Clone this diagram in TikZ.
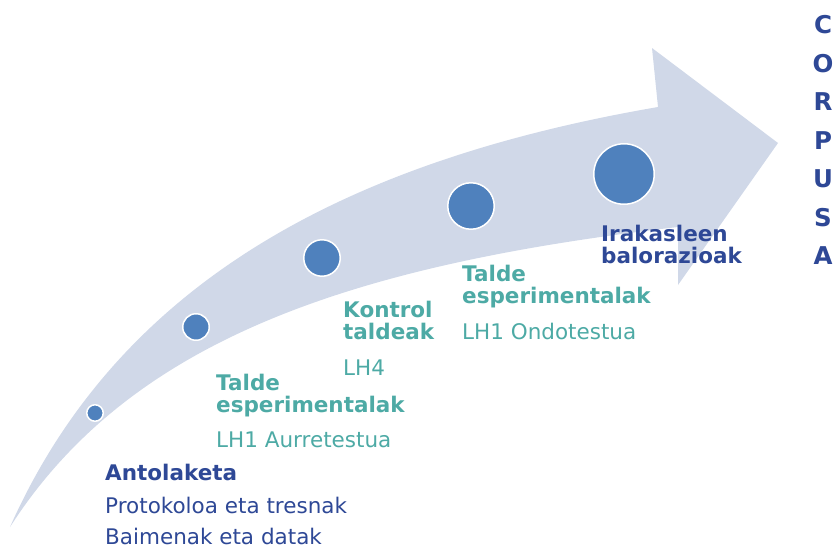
\documentclass[tikz,border=0pt]{standalone}
\usepackage{fontspec}
\setmainfont{DejaVu Sans}
\usetikzlibrary{positioning}

\definecolor{arrowfill}{RGB}{208,216,232}
\definecolor{dotblue}{RGB}{79,129,189}
\definecolor{tealtext}{RGB}{77,170,165}
\definecolor{navytext}{RGB}{46,72,150}

\begin{document}
\begin{tikzpicture}[x=1pt,y=-1pt,
	dot/.style={circle,fill=dotblue,draw=white,line width=1.5pt,inner sep=0pt},
	txt/.style={anchor=base west,inner sep=0pt,font=\fontsize{21.5}{24}\selectfont},
	ttl/.style={txt,font=\fontsize{21.5}{24}\selectfont\bfseries},
	corpus/.style={inner sep=0pt,text=navytext,font=\fontsize{24.5}{26}\selectfont\bfseries}]
	\useasboundingbox (0,0) rectangle (837,546);
	
	% curved arrow
	\fill[arrowfill] (10,527) .. controls (120,280) and (350,160) .. (658,107)
		-- (652,48) -- (778,143) -- (678,285) -- (678,227)
		.. controls (350,265) and (130,340) .. (10,527) -- cycle;
	
	\foreach \x/\y/\s [count=\i] in {95/413/16.5, 196/327/26.5, 322/258/36.5, 471/206/46.5, 624/174/60.5}
		\node[dot,minimum size=\s pt] (d\i) at (\x,\y) {};
	
	% steps
	\node[ttl,text=navytext] (antol) at (105,480) {Antolaketa};
	\node[txt,text=navytext,below=33pt of antol.base west,anchor=base west] (proto) {Protokoloa eta tresnak};
	\node[txt,text=navytext,below=31pt of proto.base west,anchor=base west] (baimen) {Baimenak eta datak};
	
	\node[ttl,text=tealtext] (talde1) at (216,390) {Talde};
	\node[ttl,text=tealtext,below=22pt of talde1.base west,anchor=base west] (esper1) {esperimentalak};
	\node[txt,text=tealtext,below=35pt of esper1.base west,anchor=base west] (aurre) {LH1 Aurretestua};
	
	\node[ttl,text=tealtext] (kontrol) at (343,317) {Kontrol};
	\node[ttl,text=tealtext,below=22pt of kontrol.base west,anchor=base west] (taldeak) {taldeak};
	\node[txt,text=tealtext,below=36pt of taldeak.base west,anchor=base west] (lh4) {LH4};
	
	\node[ttl,text=tealtext] (talde2) at (462,281) {Talde};
	\node[ttl,text=tealtext,below=22pt of talde2.base west,anchor=base west] (esper2) {esperimentalak};
	\node[txt,text=tealtext,below=36pt of esper2.base west,anchor=base west] (ondo) {LH1 Ondotestua};
	
	\node[ttl,text=navytext] (irakas) at (601,241) {Irakasleen};
	\node[ttl,text=navytext,below=22pt of irakas.base west,anchor=base west] (balor) {balorazioak};
	
	\foreach \c [count=\i from 0] in {C,O,R,P,U,S,A}
		\node[corpus] (c\i) at (823,25+38.5*\i) {\c};
\end{tikzpicture}
\end{document}
